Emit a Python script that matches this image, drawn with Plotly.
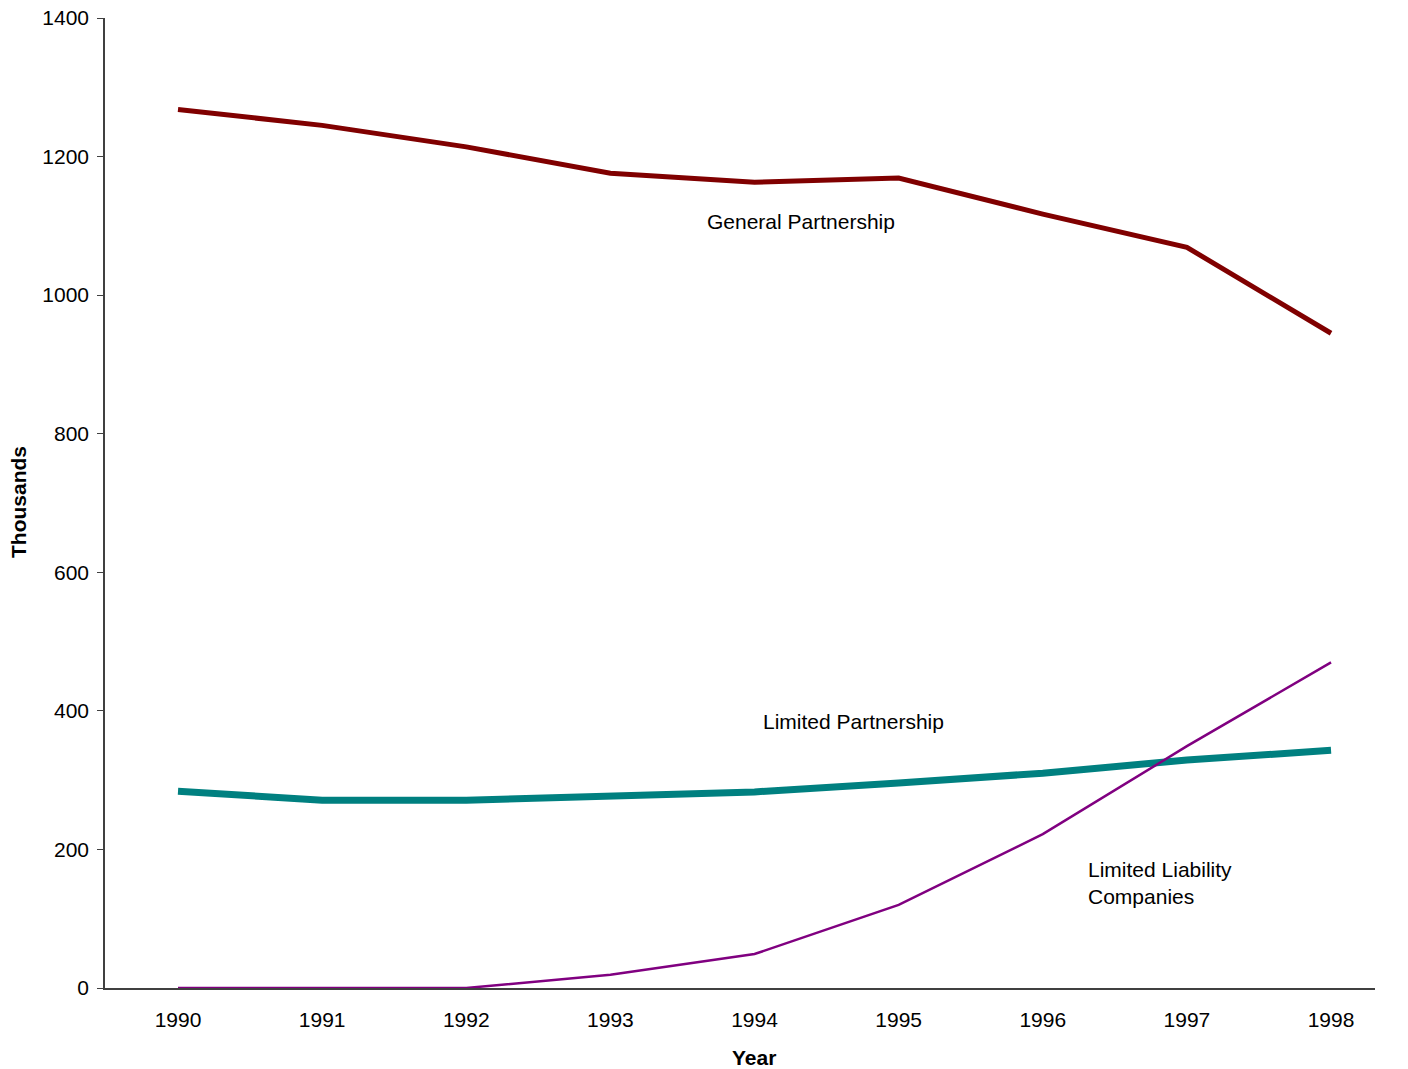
import plotly.graph_objects as go

years = [1990, 1991, 1992, 1993, 1994, 1995, 1996, 1997, 1998]
general_partnership = [1268, 1245, 1214, 1176, 1163, 1169, 1117, 1069, 945]
limited_partnership = [284, 271, 271, 276, 283, 296, 310, 329, 343]
llc = [0, 0, 0, 19, 49, 120, 222, 349, 470]
y_ticks = [0, 200, 400, 600, 800, 1000, 1200, 1400]

font = "Liberation Sans, Arial, sans-serif"
fsize = 21
W, H = 1408, 1069
ML, MR, MT, MB = 105, 33, 18, 81

fig = go.Figure()
fig.add_trace(go.Scatter(x=years, y=general_partnership, mode="lines",
                         line=dict(color="#800000", width=5)))
fig.add_trace(go.Scatter(x=years, y=limited_partnership, mode="lines",
                         line=dict(color="#008080", width=7)))
fig.add_trace(go.Scatter(x=years, y=llc, mode="lines",
                         line=dict(color="#800080", width=2.5)))

labels = [
    ("General Partnership", 1993.657, 1107),
    ("Limited Partnership", 1994.045, 385),
    ("Limited Liability<br>Companies", 1996.30, 151),
]
for text, x, y in labels:
    fig.add_annotation(x=x, y=y, text=text, showarrow=False, xanchor="left",
                       yanchor="middle", align="left",
                       font=dict(family=font, size=fsize, color="#000000"))


def paper_x(px):
    return (px - ML) / (W - ML - MR)


def paper_y(py):
    return (H - MB - py) / (H - MB - MT)


# axis titles
fig.add_annotation(x=paper_x(754), y=paper_y(1057), xref="paper", yref="paper",
                   text="<b>Year</b>", showarrow=False, xanchor="center", yanchor="middle",
                   font=dict(family=font, size=fsize))
fig.add_annotation(x=paper_x(18), y=paper_y(502), xref="paper", yref="paper",
                   text="<b>Thousands</b>", showarrow=False, textangle=-90,
                   xanchor="center", yanchor="middle", font=dict(family=font, size=fsize))

fig.update_layout(
    width=W, height=H,
    margin=dict(l=ML, r=MR, t=MT, b=MB),
    plot_bgcolor="white", paper_bgcolor="white",
    showlegend=False,
    font=dict(family=font, size=fsize, color="#000000"),
)
fig.update_xaxes(
    range=[1989.4935, 1998.305], tickvals=years, ticktext=[str(y) for y in years],
    showgrid=False, zeroline=False, showline=True, linecolor="#404040", linewidth=1.5,
    ticks="", tickfont=dict(size=fsize), ticklabelstandoff=12, automargin=False,
)
fig.update_yaxes(
    range=[0, 1400], tickvals=y_ticks, showgrid=False, zeroline=False,
    showline=True, linecolor="#404040", linewidth=1.5, ticks="outside", ticklen=6,
    tickcolor="#404040", tickfont=dict(size=fsize), ticklabelstandoff=4, automargin=False,
)

fig.write_html("out.html")
